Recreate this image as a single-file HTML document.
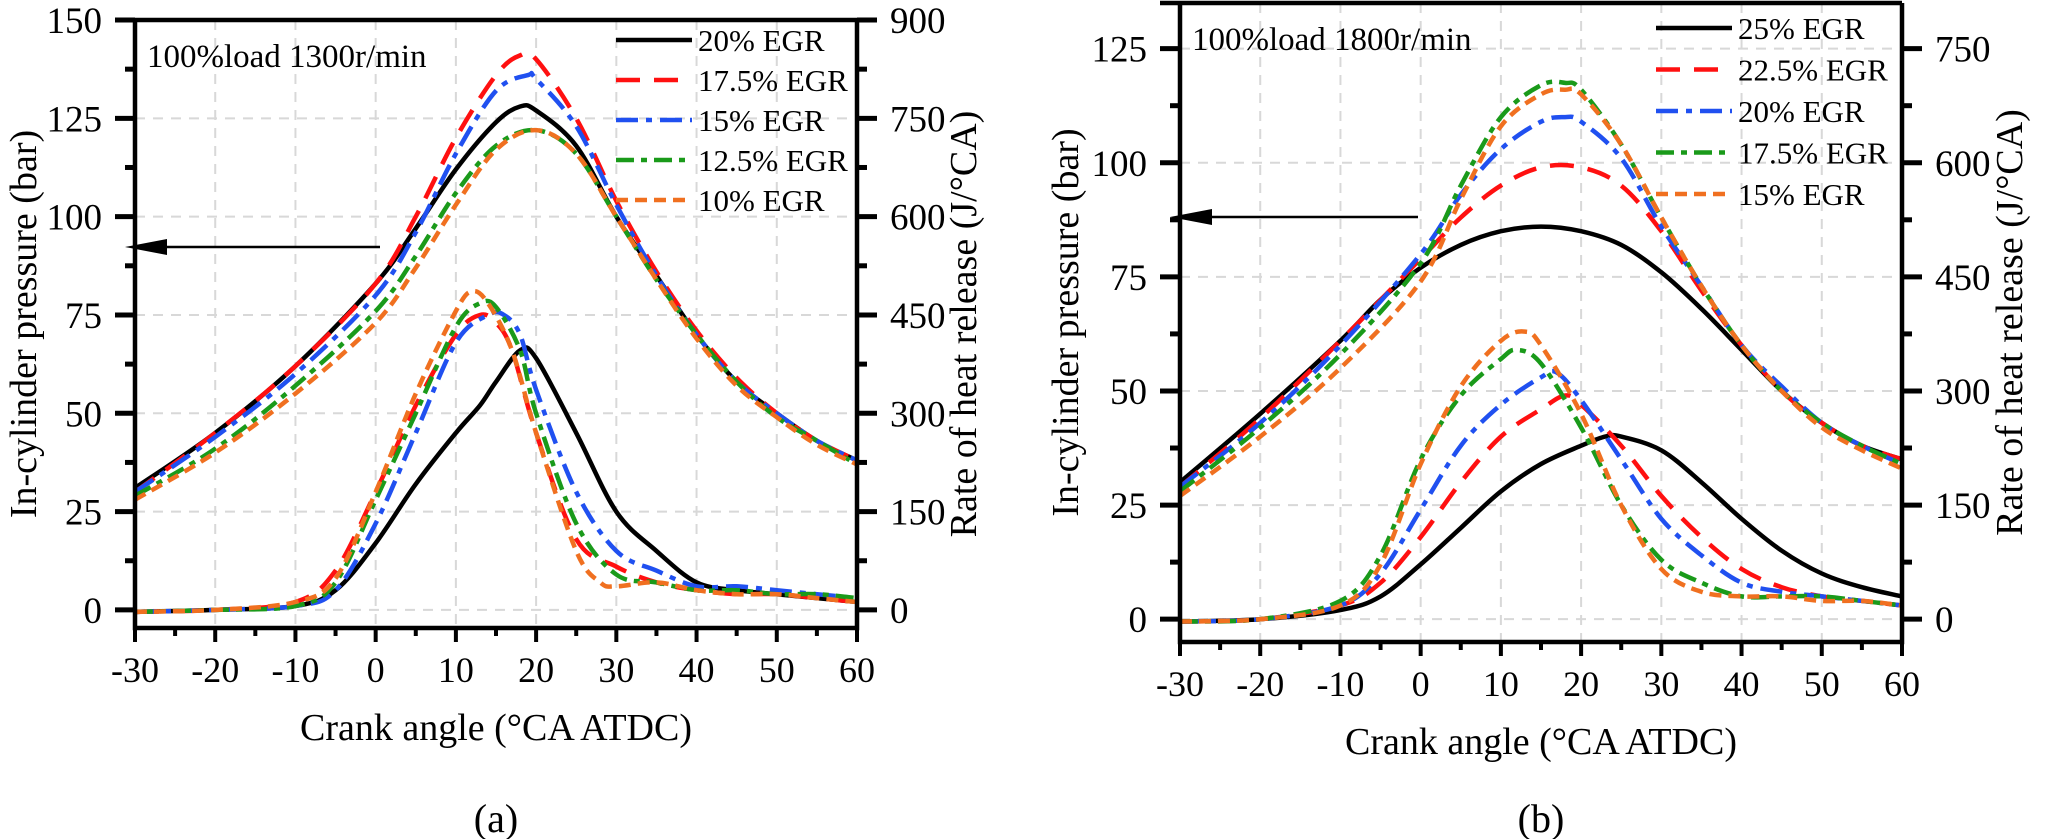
<!DOCTYPE html>
<html><head><meta charset="utf-8">
<style>
html,body{margin:0;padding:0;background:#fff;}
svg{display:block;}
text{font-family:"Liberation Serif",serif;fill:#000;}
</style></head>
<body>
<svg id="fig" width="2048" height="839" viewBox="0 0 2048 839" xmlns="http://www.w3.org/2000/svg"></svg>
<script>
// ---- data (crank angle, pressure bar, HRR J/°CA) ----
const aLabels = ["20% EGR","17.5% EGR","15% EGR","12.5% EGR","10% EGR"];
const aPX = [[-30,-20,-10,0,5,10,15,18,20,25,30,35,40,45,50,55,60],
             [-30,-20,-10,0,5,10,15,18,20,25,30,35,40,45,50,55,60],
             [-30,-20,-10,0,5,10,15,19,20,25,30,35,40,45,50,55,60],
             [-30,-20,-10,0,5,10,15,20,25,30,35,40,45,50,55,60],
             [-30,-20,-10,0,5,10,15,20,25,30,35,40,45,50,55,60]];
const aP0 = [31,45,62,83,97,112,124,128,127,118,100,85,70,58,50,43,38];
const aP1 = [30,45,62,83,100,120,136,141,140,125,104,86,71,59,50,43,38];
const aP2 = [30,44,60,80,96,116,132,136,135,123,103,85,70,58,50,43,38];
const aP3 = [29,41,57,76,90,106,118,122,116,100,84,70,58,49,43,37];
const aP4 = [28,40,55,73,87,103,117,122,116,100,84,69,57,49,42,37];
const aHX = [[-30,-20,-10,-5,0,5,10,13,15,18,20,25,30,35,40,45,50,55,60],
             [-30,-20,-10,-5,0,5,10,13,15,17,20,25,30,35,40,45,50,55,60],
             [-30,-20,-10,-5,0,5,10,14,16,18,20,25,30,35,40,45,50,55,60],
             [-30,-20,-10,-5,0,5,10,13,15,18,20,25,30,35,40,45,50,55,60],
             [-30,-20,-10,-5,0,5,10,12,14,17,20,25,28,30,35,40,45,50,55,60]];
const aH0 = [-3,0,6,30,102,192,270,312,348,396,384,270,150,90,42,30,24,18,12];
const aH1 = [-3,0,12,60,180,312,420,450,438,396,270,108,66,42,30,24,24,18,12];
const aH2 = [-3,0,6,30,132,270,408,450,450,420,336,180,90,60,36,36,30,24,18];
const aH3 = [-3,0,6,42,168,300,432,468,462,396,300,132,54,42,30,30,24,24,18];
const aH4 = [-3,0,12,48,180,330,456,486,468,396,270,90,42,36,42,30,24,24,18,12];

const bLabels = ["25% EGR","22.5% EGR","20% EGR","17.5% EGR","15% EGR"];
const bPX = [[-30,-20,-10,-5,0,5,10,15,20,25,30,35,40,45,50,55,60],
             [-30,-20,-10,0,5,10,15,20,25,30,35,40,45,50,55,60],
             [-30,-20,-10,0,5,10,15,18,20,25,30,35,40,45,50,55,60],
             [-30,-20,-10,0,5,10,15,18,20,25,30,35,40,45,50,55,60],
             [-30,-20,-10,0,5,10,15,18,20,25,30,35,40,45,50,55,60]];
const bP0 = [30,45,61,70,77,82,85,86,85,82,76,68,59,50,43,38,35];
const bP1 = [29,44,61,79,88,95,99,99,95,85,72,60,50,43,38,35];
const bP2 = [29,43,60,80,93,103,109,110,109,101,86,73,60,51,43,38,34];
const bP3 = [28,42,58,78,95,110,117,117.5,116,104,88,73,60,50,43,38,34];
const bP4 = [27,40,55,74,92,108,115,116,115,104,88,73,60,50,42,37,33];
const bHX = [[-30,-20,-10,-5,0,5,10,15,20,23,25,30,35,40,45,50,55,60],
             [-30,-20,-10,-5,0,5,10,15,18,20,25,30,35,40,45,50,55,60],
             [-30,-20,-10,-5,0,5,10,15,17,20,25,30,35,40,45,50,55,60],
             [-30,-20,-10,-5,0,5,10,12,15,20,25,30,35,40,45,50,55,60],
             [-30,-20,-10,-5,0,5,10,13,15,20,25,30,35,40,45,50,55,60]];
const bH0 = [-3,0,12,30,72,120,168,204,228,240,240,222,180,132,90,60,42,30];
const bH1 = [-3,0,18,48,108,180,240,276,294,282,228,162,108,66,42,30,24,18];
const bH2 = [-3,0,18,60,144,228,282,318,324,288,210,132,84,48,36,30,24,18];
const bH3 = [-3,0,24,84,210,294,342,354,336,252,150,78,48,30,30,30,24,18];
const bH4 = [-3,0,18,72,204,306,366,378,360,270,150,66,36,30,30,24,24,18];

const xTicks = [-30,-20,-10,0,10,20,30,40,50,60];
const aYTicks = [0,25,50,75,100,125,150];
const aRTicks = [0,150,300,450,600,750,900];
const bYTicks = [0,25,50,75,100,125];
const bRTicks = [0,150,300,450,600,750];

const colors = ["#000000","#ff1010","#2050f0","#1a9a1a","#f07020"];
const dashes = ["", "24 14", "22 8 6 8", "18 7 6 7", "12 7"];

const NS="http://www.w3.org/2000/svg";
const svg=document.getElementById('fig');
function mk(tag,attrs,parent){const e=document.createElementNS(NS,tag);for(const k in attrs)e.setAttribute(k,attrs[k]);(parent||svg).appendChild(e);return e;}

function smoothPath(pts){
  let d="M"+pts[0][0].toFixed(1)+","+pts[0][1].toFixed(1);
  for(let i=0;i<pts.length-1;i++){
    const p0=pts[Math.max(0,i-1)],p1=pts[i],p2=pts[i+1],p3=pts[Math.min(pts.length-1,i+2)];
    const c1=[p1[0]+(p2[0]-p0[0])/6,p1[1]+(p2[1]-p0[1])/6];
    const c2=[p2[0]-(p3[0]-p1[0])/6,p2[1]-(p3[1]-p1[1])/6];
    d+=" C"+c1[0].toFixed(1)+","+c1[1].toFixed(1)+" "+c2[0].toFixed(1)+","+c2[1].toFixed(1)+" "+p2[0].toFixed(1)+","+p2[1].toFixed(1);
  }
  return d;
}

function panel(cfg){
  const g=mk('g',{});
  
  
  const L=cfg.L,R=cfg.R,T=cfg.T,B=cfg.B;
  const xs=v=>L+(v+30)/90*(R-L);
  const ys=v=>B-(v-cfg.ymin)/(cfg.ymax-cfg.ymin)*(B-T);
  const yr=v=>ys(v/6);
  xTicks.forEach(t=>{ if(t>-30&&t<60){const l=mk('line',{x1:xs(t),x2:xs(t),y1:T,y2:B,stroke:"#d8d8d8","stroke-width":2,"stroke-dasharray":"10 8"},g);
    }});
  cfg.yTicks.forEach(t=>{ if(ys(t)>T+2){const l=mk('line',{x1:L,x2:R,y1:ys(t),y2:ys(t),stroke:"#d8d8d8","stroke-width":2,"stroke-dasharray":"10 8"},g);
    }});
  const series=[[cfg.PX,cfg.P,ys],[cfg.HX,cfg.H,yr]];
  series.forEach((s,si)=>{
    s[1].forEach((arr,i)=>{
      const pts=arr.map((v,j)=>[xs(s[0][i][j]),s[2](v)]);
      const p=mk('path',{d:smoothPath(pts),fill:"none",stroke:colors[i],"stroke-width":4.5,"stroke-dasharray":dashes[i],"stroke-linejoin":"round"},g);
      
      
    });
  });
  const ax={stroke:"#000","stroke-width":4.5,fill:"none"};
  const f=mk('path',Object.assign({d:`M${L},${T} L${L},${B} L${R},${B} L${R},${T} M${L-20},${T} L${R},${T}`},ax),g);
  
  for(let v=-30;v<=60;v+=5){
    const major=v%10===0;
    mk('line',{x1:xs(v),x2:xs(v),y1:B,y2:B+(major?14:8),stroke:"#000","stroke-width":4},g);
  }
  xTicks.forEach(t=>{const tx=mk('text',{x:xs(t),y:B+54,"text-anchor":"middle","font-size":36},g);tx.textContent=t;
    });
  for(let v=0;v<=cfg.ymax+0.01;v+=12.5){
    const major=v%25===0;
    mk('line',{x1:L,x2:L-(major?20:10),y1:ys(v),y2:ys(v),stroke:"#000","stroke-width":5},g);
  }
  cfg.yTicks.forEach(t=>{const tx=mk('text',{x:L-33,y:ys(t)+13,"text-anchor":"end","font-size":37},g);tx.textContent=t;
    });
  for(let v=0;v<=cfg.rTicks[cfg.rTicks.length-1]+0.1;v+=75){
    const major=v%150===0;
    mk('line',{x1:R,x2:R+(major?20:10),y1:yr(v),y2:yr(v),stroke:"#000","stroke-width":5},g);
  }
  cfg.rTicks.forEach(t=>{const tx=mk('text',{x:R+33,y:yr(t)+13,"text-anchor":"start","font-size":37},g);tx.textContent=t;
    });
  const xt=mk('text',{x:(L+R)/2,y:B+112,"text-anchor":"middle","font-size":38},g);xt.textContent="Crank angle (°CA ATDC)";
  
  const cy=(T+B)/2;
  const yl=mk('text',{x:cfg.ylx,y:cy,"text-anchor":"middle","font-size":38,transform:`rotate(-90 ${cfg.ylx} ${cy})`},g);yl.textContent="In-cylinder pressure (bar)";
  
  const yr2=mk('text',{x:cfg.yrx,y:cy,"text-anchor":"middle","font-size":38,transform:`rotate(-90 ${cfg.yrx} ${cy})`},g);yr2.textContent="Rate of heat release (J/°CA)";
  
  const an=mk('text',{x:L+12,y:T+47,"font-size":33},g);an.textContent=cfg.note;
  
  const sub=mk('text',{x:(L+R)/2,y:832,"text-anchor":"middle","font-size":40},g);sub.textContent=cfg.sub;
  
  const ar=mk('g',{},g);
  
  mk('line',{x1:cfg.arrow[0],x2:L+30,y1:cfg.arrow[1],y2:cfg.arrow[1],stroke:"#000","stroke-width":2.5},ar);
  mk('path',{d:`M${L-10},${cfg.arrow[1]} L${L+32},${cfg.arrow[1]-8} L${L+32},${cfg.arrow[1]+8} Z`,fill:"#000"},ar);
  cfg.labels.forEach((lab,i)=>{
    const le=mk('g',{},g);
    
    const yy=cfg.leg[1]+i*cfg.leg[2];
    mk('line',{x1:cfg.leg[0],x2:cfg.leg[0]+76,y1:yy,y2:yy,stroke:colors[i],"stroke-width":4.5,"stroke-dasharray":dashes[i]},le);
    const t=mk('text',{x:cfg.leg[0]+82,y:yy+11,"font-size":31},le);t.textContent=lab;
  });
}

panel({name:'panel-a',L:135,R:857,T:20,B:628,ymin:-4.6,ymax:150,
  PX:aPX,P:[aP0,aP1,aP2,aP3,aP4],HX:aHX,H:[aH0,aH1,aH2,aH3,aH4],labels:aLabels,
  yTicks:aYTicks,rTicks:aRTicks,ylx:36,yrx:976,note:"100%load 1300r/min",sub:"(a)",
  arrow:[380,247],leg:[616,40,40]});
panel({name:'panel-b',L:1180,R:1902,T:3,B:642,ymin:-5,ymax:135,
  PX:bPX,P:[bP0,bP1,bP2,bP3,bP4],HX:bHX,H:[bH0,bH1,bH2,bH3,bH4],labels:bLabels,
  yTicks:bYTicks,rTicks:bRTicks,ylx:1078,yrx:2022,note:"100%load 1800r/min",sub:"(b)",
  arrow:[1418,217],leg:[1656,28,41.5]});
</script>
</body></html>
